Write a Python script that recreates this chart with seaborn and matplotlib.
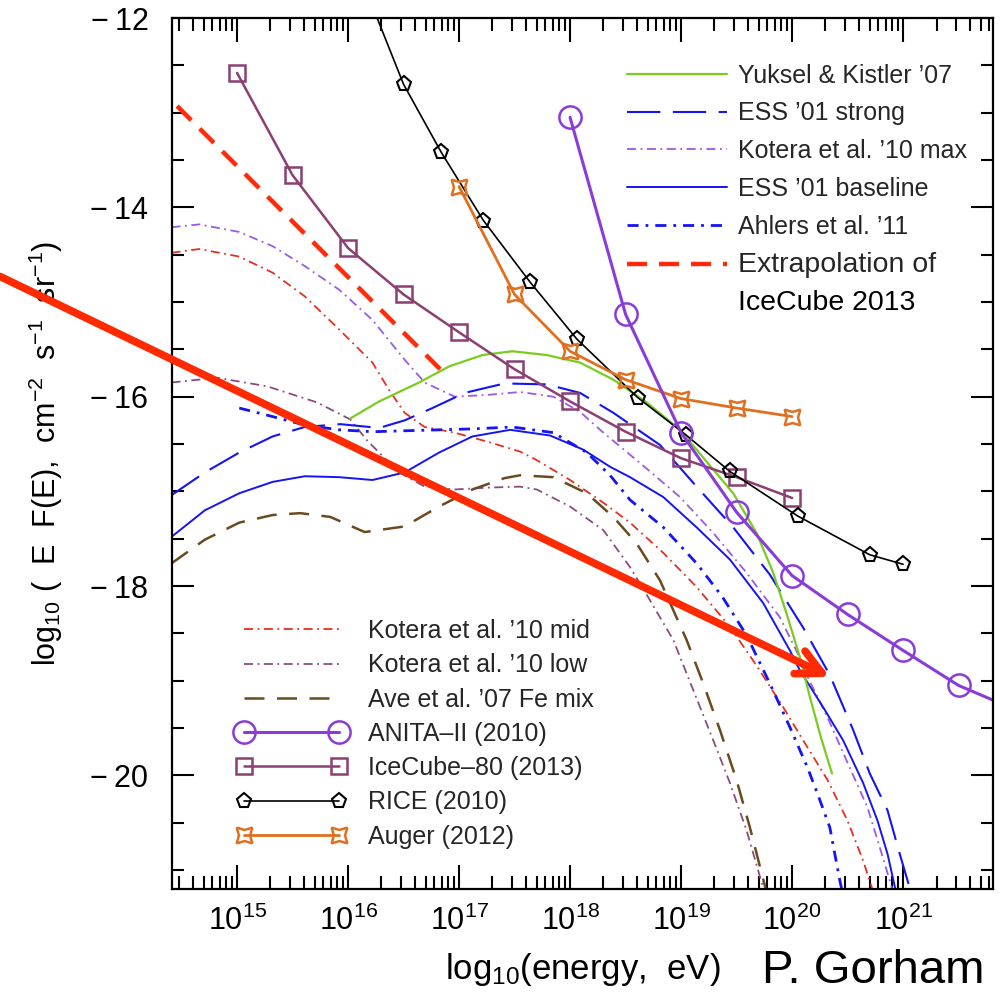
import numpy as np
import matplotlib
matplotlib.use('Agg')
import matplotlib.pyplot as plt
import seaborn as sns
from matplotlib.patches import FancyArrowPatch
from matplotlib.ticker import FixedLocator, FuncFormatter, LogLocator, MultipleLocator, NullFormatter

# all values: x = log10(E / eV), y = log10(E F(E) / cm^-2 s^-1 sr^-1)

# model curves
yk_logE = [16.02, 16.28, 16.64, 16.91, 17.21, 17.48, 17.79, 18.09, 18.39, 18.69, 18.99,
           19.29, 19.47, 19.68, 19.83, 19.95, 20.07, 20.16, 20.26, 20.36]
yk_flux = [-16.23, -16.05, -15.85, -15.68, -15.56, -15.52, -15.56, -15.64, -15.82, -16.06, -16.35,
           -16.77, -17.02, -17.44, -17.86, -18.29, -18.75, -19.17, -19.60, -19.98]

esss_logE = [14.41, 14.71, 15.02, 15.32, 15.61, 15.93, 16.28, 16.51, 16.76, 17.05, 17.41, 17.79, 18.09,
             18.39, 18.81, 19.14, 19.47, 19.80, 20.10, 20.34, 20.55, 20.70, 20.86, 20.97, 21.06]
esss_flux = [-17.04, -16.80, -16.59, -16.42, -16.32, -16.29, -16.33, -16.25, -16.12, -15.96, -15.86, -15.87, -15.96,
             -16.17, -16.51, -16.95, -17.38, -17.88, -18.44, -18.94, -19.52, -19.98, -20.37, -20.83, -21.19]

kmax_logE = [14.41, 14.66, 15.02, 15.32, 15.61, 15.92, 16.22, 16.51, 16.69, 16.96, 17.27, 17.55, 17.85, 18.09,
             18.30, 18.63, 18.99, 19.29, 19.59, 19.89, 20.05, 20.14, 20.32, 20.52, 20.68, 20.79, 20.88, 20.93]
kmax_flux = [-14.21, -14.18, -14.26, -14.41, -14.62, -14.87, -15.19, -15.61, -15.85, -16.00, -15.98, -15.95, -16.00, -16.16,
             -16.38, -16.70, -17.06, -17.44, -17.86, -18.33, -18.71, -18.96, -19.39, -19.92, -20.34, -20.76, -21.11, -21.32]

essb_logE = [14.41, 14.71, 15.02, 15.32, 15.61, 15.92, 16.22, 16.51, 16.82, 17.12, 17.46, 17.82, 18.12, 18.36,
             18.54, 18.84, 19.14, 19.44, 19.74, 19.98, 20.07, 20.28, 20.46, 20.64, 20.77, 20.86, 20.93]
essb_flux = [-17.48, -17.20, -17.02, -16.90, -16.84, -16.85, -16.88, -16.80, -16.59, -16.42, -16.35, -16.41, -16.56, -16.74,
             -16.85, -17.06, -17.38, -17.72, -18.18, -18.68, -18.89, -19.28, -19.63, -20.08, -20.48, -20.83, -21.20]

ahl_logE = [15.02, 15.32, 15.61, 15.92, 16.22, 16.51, 16.82, 17.12, 17.48, 17.85, 18.15, 18.36, 18.54, 18.84,
            19.14, 19.37, 19.59, 19.80, 19.98, 20.14, 20.25, 20.34, 20.43, 20.46]
ahl_flux = [-16.12, -16.21, -16.30, -16.35, -16.37, -16.36, -16.35, -16.34, -16.32, -16.38, -16.59, -16.83, -17.09, -17.38,
            -17.76, -18.11, -18.52, -19.03, -19.49, -19.92, -20.26, -20.55, -21.11, -21.27]

ext_logE = [14.46, 16.83]
ext_flux = [-12.93, -15.71]

kmid_logE = [14.41, 14.66, 15.02, 15.32, 15.61, 15.92, 16.22, 16.37, 16.51, 16.69, 16.96, 17.27, 17.55, 17.70,
             18.00, 18.30, 18.54, 18.84, 19.14, 19.44, 19.68, 19.92, 20.10, 20.32, 20.50, 20.64, 20.72]
kmid_flux = [-14.48, -14.44, -14.52, -14.69, -14.94, -15.29, -15.64, -15.93, -16.17, -16.32, -16.38, -16.48, -16.58, -16.67,
             -16.88, -17.12, -17.33, -17.65, -18.01, -18.43, -18.84, -19.28, -19.63, -20.05, -20.48, -20.90, -21.19]

klow_logE = [14.41, 14.82, 15.27, 15.72, 16.02, 16.17, 16.28, 16.46, 16.69, 16.96, 17.27, 17.55, 17.70, 18.00,
             18.30, 18.54, 18.72, 18.93, 19.11, 19.29, 19.44, 19.59, 19.74]
klow_flux = [-15.85, -15.80, -15.89, -16.06, -16.24, -16.46, -16.59, -16.80, -16.95, -16.98, -16.96, -16.95, -16.98, -17.16,
             -17.41, -17.80, -18.15, -18.57, -19.10, -19.63, -20.08, -20.58, -21.19]

ave_logE = [14.41, 14.71, 15.02, 15.32, 15.57, 15.84, 16.15, 16.51, 16.82, 17.12, 17.41, 17.55, 17.85, 18.15,
            18.39, 18.60, 18.81, 19.05, 19.20, 19.35, 19.50, 19.62, 19.76]
ave_flux = [-17.76, -17.51, -17.33, -17.25, -17.23, -17.27, -17.43, -17.37, -17.16, -16.98, -16.86, -16.83, -16.85, -17.02,
            -17.27, -17.55, -17.94, -18.57, -19.03, -19.52, -20.05, -20.55, -21.19]

# experimental limits
anita_logE = [18.0, 18.5, 19.0, 19.5, 20.0, 20.5, 21.0, 21.5, 22.0]
anita_flux = [-13.05, -15.13, -16.38, -17.22, -17.89, -18.30, -18.68, -19.05, -19.30]

icecube_logE = [15.0, 15.5, 16.0, 16.5, 17.0, 17.5, 18.0, 18.5, 19.0, 19.5, 20.0]
icecube_flux = [-12.58, -13.66, -14.43, -14.92, -15.32, -15.71, -16.05, -16.37, -16.65, -16.85, -17.07]

rice_logE = [16.0, 16.50, 16.84, 17.22, 17.64, 18.06, 18.61, 19.04, 19.44, 20.05, 20.70, 21.00]
rice_flux = [-11.23, -12.70, -13.42, -14.14, -14.79, -15.39, -16.01, -16.40, -16.79, -17.26, -17.67, -17.77]

auger_logE = [17.0, 17.5, 18.0, 18.5, 19.0, 19.5, 20.0]
auger_flux = [-13.78, -14.92, -15.52, -15.82, -16.02, -16.12, -16.21]

# axis ticks
x_decades = [15, 16, 17, 18, 19, 20, 21]
y_ticks = [-20, -18, -16, -14, -12]

# hand drawn arrow (tail, tip)
arrow_tail = (12.865, -14.73)
arrow_tip = (20.34, -18.96)

sns.set_theme(style='ticks')
plt.rcParams['font.family'] = ['Liberation Sans', 'DejaVu Sans']
plt.rcParams['mathtext.fontset'] = 'custom'
plt.rcParams['mathtext.rm'] = 'Liberation Sans'
plt.rcParams['mathtext.it'] = 'Liberation Sans:italic'
plt.rcParams['mathtext.bf'] = 'Liberation Sans:bold'

fig = plt.figure(figsize=(10.02, 9.92), dpi=100)
ax = fig.add_axes([172 / 1002, 1 - 889 / 992, 821 / 1002, 871 / 992])


def draw(logE, flux, **kw):
    sns.lineplot(x=10 ** np.asarray(logE), y=flux, ax=ax, estimator=None, sort=False,
                 legend=False, **kw)
    return ax.lines[-1]


blue = '#1414f5'
dashdot = (0, (5, 2.5, 1, 2.5))
# models
h_kmid = draw(kmid_logE, kmid_flux, color='#e5301f', lw=1.3, linestyle=dashdot)
h_klow = draw(klow_logE, klow_flux, color='#8c4a80', lw=1.3, linestyle=dashdot)
h_ave = draw(ave_logE, ave_flux, color='#6b4a1e', lw=1.8, linestyle=(0, (8, 5)))
h_kmax = draw(kmax_logE, kmax_flux, color='#9a5be0', lw=1.3, linestyle=dashdot)
h_essb = draw(essb_logE, essb_flux, color=blue, lw=1.4)
h_ahl = draw(ahl_logE, ahl_flux, color=blue, lw=2.0, linestyle=(0, (4, 2.5, 1, 2.5)))
h_esss = draw(esss_logE, esss_flux, color=blue, lw=1.5, linestyle=(0, (16, 6)))
h_yk = draw(yk_logE, yk_flux, color='#7acc1e', lw=1.6)
h_ext = draw(ext_logE, ext_flux, color='#ff2a0a', lw=3.2, linestyle=(0, (4.5, 2.7)))

# limits
h_ice = draw(icecube_logE, icecube_flux, color='#8b3f72', lw=1.8, marker='s', markersize=12,
             markerfacecolor='none', markeredgecolor='#8b3f72', markeredgewidth=1.8)
h_rice = draw(rice_logE, rice_flux, color='black', lw=1.2, marker='p', markersize=11,
              markerfacecolor='none', markeredgecolor='black', markeredgewidth=1.5)
h_auger = draw(auger_logE, auger_flux, color='#e07020', lw=2.0, marker=(4, 1, 45), markersize=16,
               markerfacecolor='none', markeredgecolor='#e07020', markeredgewidth=1.8)
h_anita = draw(anita_logE, anita_flux, color='#8a3cd8', lw=2.2, marker='o', markersize=16,
               markerfacecolor='none', markeredgecolor='#8a3cd8', markeredgewidth=1.8)

arrow = FancyArrowPatch((10 ** arrow_tail[0], arrow_tail[1]), (10 ** arrow_tip[0], arrow_tip[1]),
                        arrowstyle='->,head_length=0.9,head_width=0.45', mutation_scale=20,
                        color='#ff2a00', lw=5.5, shrinkA=0, shrinkB=0, clip_on=False, zorder=5)
ax.add_patch(arrow)

ax.set_xscale('log')
ax.set_xlim(10 ** 14.414, 10 ** 21.81)
ax.set_ylim(-21.2, -12.0)
ax.xaxis.set_major_locator(FixedLocator([10.0 ** d for d in x_decades]))
ax.xaxis.set_major_formatter(FuncFormatter(lambda v, p: '10$^{%d}$' % round(np.log10(v))))
ax.xaxis.set_minor_locator(LogLocator(base=10, subs=np.arange(2, 10), numticks=20))
ax.xaxis.set_minor_formatter(NullFormatter())
ax.yaxis.set_major_locator(FixedLocator(y_ticks))
ax.yaxis.set_major_formatter(FuncFormatter(lambda v, p: '\u2212\u2009%d' % abs(v)))
ax.yaxis.set_minor_locator(MultipleLocator(0.5))

ax.tick_params(which='both', direction='in', top=True, right=True, width=1.5, color='black',
               labelsize=22, labelcolor='black')
ax.tick_params(axis='x', which='major', length=17, pad=12)
ax.tick_params(axis='x', which='minor', length=9.5)
ax.tick_params(axis='y', which='major', length=16, pad=17)
ax.tick_params(axis='y', which='minor', length=8.6)
for s in ax.spines.values():
    s.set_linewidth(1.6)
    s.set_color('black')

ax.set_xlabel('log$_{10}$(energy,  eV)', fontsize=25, labelpad=10, color='black')
ax.set_ylabel('log$_{10}$ (  E  F(E),  cm$^{-2}$  s$^{-1}$  sr$^{-1}$)', fontsize=22, labelpad=18,
              color='black')

leg1 = ax.legend(handles=[h_yk, h_esss, h_kmax, h_essb, h_ahl, h_ext],
                 labels=['Yuksel & Kistler \u201907', 'ESS \u201901 strong', 'Kotera et al. \u201910 max',
                         'ESS \u201901 baseline', 'Ahlers et al. \u201911', 'Extrapolation of'],
                 loc='upper left', bbox_to_anchor=(0.554, 0.9475), frameon=False, fontsize=18,
                 handlelength=4.0, handletextpad=0.45, labelspacing=0.55, borderpad=0, borderaxespad=0)
leg1.get_texts()[-1].set_fontsize(20.5)
ax.add_artist(leg1)

ax.legend(handles=[h_kmid, h_klow, h_ave, h_anita, h_ice, h_rice, h_auger],
          labels=['Kotera et al. \u201910 mid', 'Kotera et al. \u201910 low', 'Ave et al. \u201907 Fe mix',
                  'ANITA\u2013II (2010)', 'IceCube\u201380 (2013)', 'RICE (2010)', 'Auger (2012)'],
          loc='lower left', bbox_to_anchor=(0.079, 0.0464), frameon=False, fontsize=18, numpoints=2,
          handlelength=4.4, handletextpad=0.85, labelspacing=0.41, borderpad=0, borderaxespad=0)

# second line of the last entry of the upper legend
fig.canvas.draw()
bb = leg1.get_texts()[-1].get_window_extent(fig.canvas.get_renderer())
fig.text(bb.x0 / fig.bbox.width, (bb.y0 - 38) / fig.bbox.height, 'IceCube 2013',
         fontsize=20.5, ha='left', va='bottom', color='black')

fig.text(762 / 1002, 1 - 983 / 992, 'P. Gorham', fontsize=34, ha='left', va='baseline', color='black')

fig.savefig('out.png', dpi=100, facecolor='white')
